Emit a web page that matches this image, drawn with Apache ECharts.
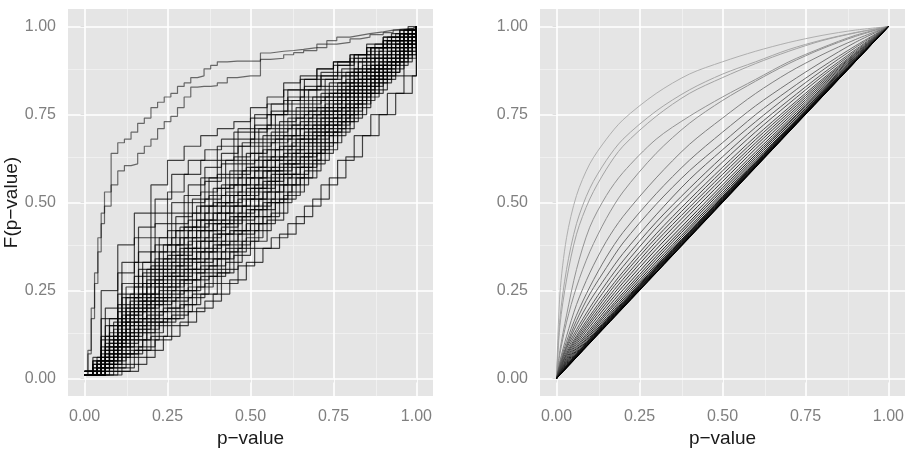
<!DOCTYPE html>
<html>
<head>
<meta charset="utf-8">
<script src="https://cdn.jsdelivr.net/npm/echarts@6/dist/echarts.min.js"></script>
<style>
  html, body { margin: 0; padding: 0; background: #fff; }
  #chart { width: 911px; height: 453px; }
</style>
</head>
<body>
<div id="chart"></div>
<script>
// tick values shared by both panels
const tickValues = [0, 0.25, 0.5, 0.75, 1];
const minorValues = [0.125, 0.375, 0.625, 0.875];

// left panel: empirical CDFs, F read at each p of a grid
const pGridA = [0, .05, .1, .15, .2, .25, .3, .35, .4, .45, .5, .55, .6, .65, .7, .75, .8, .85, .9, .95, 1];
const pGridD = [0, .0625, .1125, .1625, .2125, .2625, .3125, .3625, .4125, .4625, .5125, .5625, .6125, .6625, .7125, .7625, .8125, .8625, .9125, .9625, 1];
const pGridB = [0, .025, .075, .125, .175, .225, .275, .325, .375, .425, .475, .525, .575, .625, .675, .725, .775, .825, .875, .925, .975, 1];
const pGridE = [0, .0375, .0875, .1375, .1875, .2375, .2875, .3375, .3875, .4375, .4875, .5375, .5875, .6375, .6875, .7375, .7875, .8375, .8875, .9375, .9875, 1];
const pGridC = [0, .01, .02, .03, .04, .05, .06, .08, .1, .12, .14, .16, .18, .2, .22, .24, .26, .28, .3, .32, .34, .36, .38, .4, .43, .46, .5, .53, .56, .6, .63, .66, .7, .73, .76, .8, .83, .86, .9, .93, .96, .99, 1];

// the two curves far above the rest
const ecdfGridC = [
  [.01, .08, .20, .30, .40, .47, .53, .64, .67, .68, .70, .725, .74, .77, .785, .80, .81, .83, .84, .855, .86, .88, .89, .90, .902, .902, .902, .925, .93, .932, .935, .94, .95, .96, .97, .975, .98, .985, .99, .993, .995, .998, 1],
  [.01, .07, .17, .27, .36, .44, .49, .55, .59, .605, .61, .64, .66, .68, .71, .73, .745, .77, .80, .828, .83, .83, .832, .84, .855, .86, .86, .907, .91, .92, .926, .932, .94, .95, .955, .965, .97, .977, .983, .99, .995, .998, 1]
];

const ecdfGridA = [
  [.01, .25, .38, .47, .55, .62, .66, .69, .71, .73, .77, .80, .84, .86, .88, .90, .92, .94, .96, .98, 1],
  [.01, .17, .30, .40, .47, .53, .58, .62, .66, .70, .74, .78, .82, .85, .88, .90, .92, .95, .97, .99, 1],
  [.01, .12, .24, .33, .40, .47, .52, .57, .62, .66, .70, .75, .79, .82, .86, .89, .91, .94, .96, .98, 1],
  [.02, .11, .21, .29, .36, .42, .47, .53, .58, .63, .68, .72, .76, .80, .83, .86, .90, .93, .97, .99, 1],
  [.02, .09, .19, .26, .32, .38, .43, .49, .54, .58, .64, .68, .72, .76, .80, .83, .87, .91, .95, .98, 1],
  [.02, .08, .17, .23, .29, .35, .40, .45, .50, .55, .60, .65, .69, .73, .77, .81, .86, .90, .94, .97, 1],
  [.01, .07, .15, .21, .27, .32, .37, .42, .47, .52, .57, .62, .66, .71, .75, .80, .84, .88, .92, .96, 1],
  [.01, .06, .13, .19, .24, .29, .34, .39, .44, .49, .54, .59, .64, .68, .73, .78, .83, .87, .91, .95, 1],
  [.02, .05, .11, .16, .22, .26, .31, .36, .41, .46, .51, .56, .61, .66, .71, .76, .81, .86, .90, .94, 1],
  [.01, .04, .09, .14, .19, .24, .28, .32, .38, .42, .48, .53, .58, .63, .69, .74, .79, .85, .89, .93, 1],
  [.01, .03, .07, .11, .16, .20, .25, .29, .34, .38, .44, .50, .55, .60, .66, .72, .78, .83, .87, .92, 1],
  [.01, .01, .03, .08, .12, .17, .21, .24, .30, .35, .39, .45, .52, .57, .64, .70, .75, .81, .87, .91, 1]
];

const ecdfGridD = [
  [.01, .20, .33, .43, .51, .58, .62, .65, .68, .71, .75, .78, .82, .85, .87, .90, .92, .94, .96, .98, 1],
  [.01, .15, .27, .36, .44, .50, .55, .60, .64, .68, .72, .76, .80, .83, .86, .89, .92, .94, .96, .98, 1],
  [.01, .12, .23, .31, .38, .44, .50, .56, .61, .66, .71, .75, .78, .82, .85, .87, .91, .94, .97, .99, 1],
  [.01, .10, .20, .27, .34, .40, .45, .51, .55, .61, .66, .70, .74, .78, .81, .84, .88, .92, .96, .99, 1],
  [.01, .09, .18, .24, .31, .36, .42, .47, .52, .57, .62, .67, .71, .75, .79, .82, .87, .91, .94, .98, 1],
  [.01, .08, .16, .22, .28, .33, .39, .44, .49, .53, .59, .63, .68, .72, .76, .80, .85, .89, .93, .97, 1],
  [.02, .07, .13, .20, .26, .30, .36, .40, .45, .51, .55, .60, .65, .70, .74, .79, .83, .88, .92, .96, 1],
  [.01, .06, .12, .17, .23, .28, .33, .37, .43, .47, .53, .58, .62, .67, .72, .77, .82, .86, .91, .95, 1],
  [.01, .05, .10, .15, .21, .25, .30, .34, .39, .45, .49, .55, .60, .64, .70, .75, .80, .85, .90, .94, 1],
  [.02, .04, .07, .13, .17, .22, .26, .31, .36, .41, .46, .51, .57, .62, .67, .73, .78, .84, .88, .93, 1],
  [.01, .02, .06, .09, .15, .18, .23, .27, .31, .37, .42, .47, .53, .59, .65, .71, .77, .82, .86, .92, 1],
  [.01, .01, .02, .06, .11, .15, .19, .22, .27, .32, .37, .40, .44, .49, .55, .62, .69, .75, .81, .86, 1]
];

const ecdfGridB = [
  [.01, .06, .17, .26, .33, .40, .46, .51, .57, .62, .67, .71, .75, .79, .82, .85, .88, .92, .95, .98, 1, 1],
  [.02, .05, .15, .23, .30, .36, .42, .47, .52, .57, .62, .67, .71, .75, .79, .82, .86, .90, .94, .97, .99, 1],
  [.01, .05, .13, .20, .27, .33, .38, .43, .49, .53, .59, .63, .68, .72, .76, .80, .84, .88, .92, .96, .99, 1],
  [.01, .04, .11, .18, .24, .30, .35, .40, .45, .50, .55, .60, .65, .69, .74, .78, .82, .87, .91, .95, .98, 1],
  [.01, .04, .10, .16, .22, .27, .32, .37, .42, .47, .52, .57, .62, .67, .71, .76, .81, .85, .89, .94, .98, 1],
  [.02, .03, .09, .14, .20, .25, .29, .34, .39, .44, .49, .54, .59, .64, .69, .74, .79, .84, .88, .93, .97, 1],
  [.01, .03, .07, .12, .17, .22, .27, .31, .36, .41, .46, .51, .57, .61, .67, .72, .77, .82, .87, .91, .97, 1],
  [.01, .02, .05, .09, .14, .19, .23, .28, .32, .37, .42, .48, .53, .58, .64, .70, .75, .81, .85, .90, .96, 1],
  [.01, .01, .03, .07, .11, .16, .19, .24, .29, .33, .39, .44, .50, .55, .61, .67, .73, .79, .84, .89, .95, 1]
];

const ecdfGridE = [
  [.01, .06, .16, .24, .31, .38, .43, .49, .54, .59, .64, .69, .73, .77, .80, .84, .87, .91, .94, .98, .99, 1],
  [.01, .05, .14, .22, .28, .34, .40, .45, .50, .55, .60, .65, .69, .74, .77, .81, .85, .89, .93, .96, .99, 1],
  [.02, .05, .12, .19, .26, .31, .37, .42, .47, .52, .57, .62, .66, .71, .75, .79, .83, .87, .91, .95, .99, 1],
  [.01, .04, .11, .17, .23, .29, .34, .39, .44, .49, .54, .59, .63, .68, .72, .77, .81, .86, .90, .94, .98, 1],
  [.01, .04, .09, .15, .21, .26, .31, .36, .41, .46, .51, .56, .61, .65, .70, .75, .80, .85, .89, .93, .98, 1],
  [.01, .03, .08, .13, .18, .23, .28, .33, .38, .42, .48, .53, .58, .63, .68, .73, .78, .83, .88, .92, .97, 1],
  [.02, .03, .06, .11, .16, .20, .25, .30, .34, .39, .44, .50, .55, .60, .65, .71, .76, .81, .86, .91, .97, 1],
  [.01, .02, .04, .08, .13, .17, .21, .26, .30, .36, .40, .46, .51, .57, .62, .69, .74, .80, .85, .90, .96, 1],
  [.01, .01, .02, .04, .08, .12, .16, .20, .24, .28, .33, .37, .41, .46, .51, .57, .63, .69, .75, .81, .86, 1]
];

// right panel: smooth CDFs read at these p values
const pSmooth = [0, .01, .03, .06, .1, .15, .2, .3, .4, .5, .6, .7, .8, .9, 1];
const cdfSmooth = [
  [0, .24, .40, .52, .61, .68, .735, .81, .865, .90, .93, .955, .975, .99, 1],
  [0, .17, .31, .44, .54, .62, .68, .76, .82, .865, .90, .935, .962, .983, 1],
  [0, .15, .28, .41, .51, .595, .66, .745, .81, .855, .895, .93, .96, .982, 1],
  [0, .08, .18, .31, .43, .52, .585, .68, .745, .80, .85, .90, .94, .975, 1],
  [0, .07, .16, .26, .36, .455, .53, .64, .725, .79, .845, .895, .937, .972, 1],
  [0, .05, .12, .21, .30, .39, .46, .57, .665, .74, .81, .87, .92, .963, 1],
  [0, .045, .105, .18, .26, .345, .415, .525, .62, .70, .775, .84, .90, .955, 1],
  [0, .04, .095, .165, .24, .315, .385, .495, .59, .67, .75, .82, .885, .945, 1],
  [0, .038, .09, .152, .22, .29, .355, .465, .565, .65, .73, .805, .875, .94, 1],
  [0, .036, .085, .139, .201, .271, .334, .444, .54, .63, .714, .791, .865, .934, 1],
  [0, .033, .078, .13, .19, .257, .318, .428, .524, .615, .701, .781, .858, .93, 1],
  [0, .03, .072, .121, .178, .243, .303, .411, .508, .60, .688, .77, .85, .926, 1],
  [0, .028, .068, .115, .17, .234, .293, .40, .497, .59, .679, .763, .845, .923, 1],
  [0, .026, .064, .109, .162, .224, .282, .389, .486, .58, .67, .756, .84, .921, 1],
  [0, .024, .059, .103, .155, .215, .272, .378, .476, .57, .662, .749, .835, .918, 1],
  [0, .022, .055, .097, .147, .206, .262, .367, .465, .56, .653, .742, .83, .916, 1],
  [0, .02, .051, .091, .139, .197, .252, .356, .454, .55, .644, .735, .825, .913, 1],
  [0, .018, .048, .086, .133, .189, .243, .347, .445, .542, .637, .729, .821, .911, 1],
  [0, .017, .045, .081, .127, .183, .236, .339, .438, .535, .631, .725, .818, .909, 1],
  [0, .016, .042, .077, .122, .176, .229, .331, .43, .528, .625, .72, .814, .907, 1],
  [0, .014, .039, .073, .117, .17, .223, .324, .424, .522, .619, .715, .811, .906, 1],
  [0, .013, .037, .07, .113, .166, .218, .319, .418, .517, .615, .712, .809, .904, 1],
  [0, .013, .036, .069, .112, .164, .215, .317, .416, .515, .613, .711, .808, .904, 1],
  [0, .013, .035, .068, .11, .162, .213, .314, .414, .513, .611, .709, .807, .903, 1],
  [0, .012, .035, .067, .109, .16, .211, .312, .412, .511, .61, .708, .806, .903, 1],
  [0, .012, .034, .065, .107, .158, .209, .31, .41, .509, .608, .706, .805, .902, 1],
  [0, .011, .033, .064, .105, .157, .207, .308, .408, .507, .606, .705, .804, .902, 1],
  [0, .011, .033, .064, .105, .156, .206, .307, .406, .506, .605, .704, .803, .902, 1],
  [0, .011, .032, .062, .103, .154, .204, .304, .404, .504, .604, .703, .802, .901, 1],
  [0, .011, .031, .062, .102, .153, .203, .303, .403, .503, .603, .702, .802, .901, 1],
  [0, .01, .031, .061, .102, .152, .202, .302, .402, .502, .602, .701, .801, .90, 1],
  [0, .01, .03, .06, .101, .151, .201, .301, .401, .501, .601, .701, .80, .90, 1],
  [0, .01, .03, .06, .1, .15, .2, .3, .4, .5, .6, .7, .8, .9, 1]
];

const labelFont = 'Liberation Sans, Arial, Helvetica, sans-serif';
const fmt = v => v.toFixed(2);

function makeAxis(gridIndex, name, gap) {
  return {
    gridIndex: gridIndex,
    type: 'value',
    min: -0.05,
    max: 1.05,
    axisLine: { show: false },
    splitLine: { show: false },
    axisTick: { show: true, customValues: tickValues, length: 4, lineStyle: { color: '#7f7f7f', width: 1 } },
    axisLabel: { customValues: tickValues, formatter: fmt, color: '#7f7f7f', fontSize: 16, margin: 12, fontFamily: labelFont },
    name: name,
    nameLocation: 'middle',
    nameGap: gap,
    nameTextStyle: { fontSize: 19, color: '#1a1a1a', fontFamily: labelFont }
  };
}

// background grid lines for one panel, drawn under the curves
function panelLines(gridIndex) {
  const lines = [];
  minorValues.forEach(v => {
    lines.push({ xAxis: v, lineStyle: { color: '#f3f3f3', width: 0.8, type: 'solid' } });
    lines.push({ yAxis: v, lineStyle: { color: '#f3f3f3', width: 0.8, type: 'solid' } });
  });
  tickValues.forEach(v => {
    lines.push({ xAxis: v, lineStyle: { color: '#ffffff', width: 1.6, type: 'solid' } });
    lines.push({ yAxis: v, lineStyle: { color: '#ffffff', width: 1.6, type: 'solid' } });
  });
  return {
    type: 'line',
    xAxisIndex: gridIndex,
    yAxisIndex: gridIndex,
    data: [],
    silent: true,
    z: 1,
    markLine: { z: 1, silent: true, symbol: ['none', 'none'], label: { show: false }, animation: false, data: lines }
  };
}

const series = [panelLines(0), panelLines(1)];

function addEcdf(grid, curves, alpha) {
  curves.forEach(ys => {
    series.push({
      type: 'line',
      xAxisIndex: 0,
      yAxisIndex: 0,
      step: 'end',
      showSymbol: false,
      silent: true,
      z: 3,
      lineStyle: { color: 'rgba(0,0,0,' + alpha + ')', width: 1.2 },
      data: ys.map((y, i) => [grid[i], y])
    });
  });
}
addEcdf(pGridC, ecdfGridC, 0.55);
addEcdf(pGridA, ecdfGridA, 0.72);
addEcdf(pGridD, ecdfGridD, 0.72);
addEcdf(pGridB, ecdfGridB, 0.72);
addEcdf(pGridE, ecdfGridE, 0.72);

// lighter grey for curves further from the diagonal
cdfSmooth.forEach(ys => {
  const dev = Math.max(0, ys[9] - 0.5);
  const g = Math.round(175 * Math.pow(Math.min(1, dev / 0.4), 0.6));
  series.push({
    type: 'line',
    xAxisIndex: 1,
    yAxisIndex: 1,
    smooth: 0.3,
    showSymbol: false,
    silent: true,
    z: 3,
    lineStyle: { color: 'rgb(' + g + ',' + g + ',' + g + ')', width: 1 },
    data: ys.map((y, i) => [pSmooth[i], y])
  });
});

const chart = echarts.init(document.getElementById('chart'), null, { renderer: 'canvas' });
chart.setOption({
  animation: false,
  backgroundColor: '#ffffff',
  grid: [
    { left: 68, top: 9, width: 365, height: 393, show: true, backgroundColor: '#e5e5e5', borderWidth: 0 },
    { left: 540, top: 9, width: 365, height: 393, show: true, backgroundColor: '#e5e5e5', borderWidth: 0 }
  ],
  xAxis: [makeAxis(0, 'p−value', 32), makeAxis(1, 'p−value', 32)],
  yAxis: [makeAxis(0, 'F(p−value)', 46), makeAxis(1, '', 46)],
  series: series
});
</script>
</body>
</html>
